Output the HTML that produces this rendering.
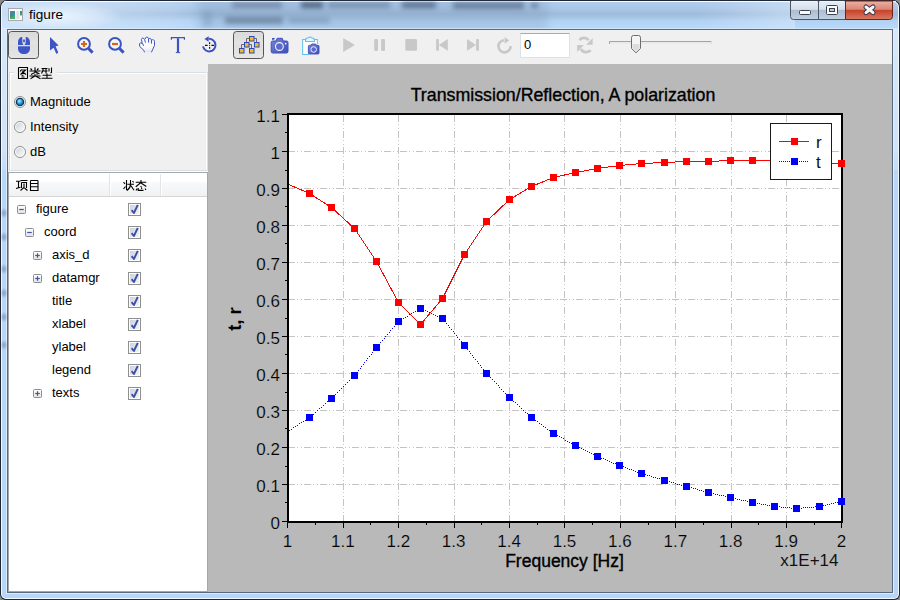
<!DOCTYPE html>
<html><head><meta charset="utf-8">
<style>
*{box-sizing:border-box}
html,body{margin:0;padding:0;width:900px;height:600px;overflow:hidden;background:#8a8a8a;font-family:"Liberation Sans",sans-serif}
.abs{position:absolute}
#outer{position:absolute;left:0;top:0;width:900px;height:600px;background:#1f2633;border-radius:7px 7px 6px 6px}
#hl{position:absolute;left:1px;top:1px;width:898px;height:598px;background:#f4f9ff;border-radius:6px 6px 5px 5px}
#frame{position:absolute;left:2px;top:2px;width:896px;height:596px;border-radius:5px 5px 4px 4px;background:linear-gradient(#b0cdec 0px,#a9c6e6 7px,#9fbcdc 12px,#a6c4e4 15px,#b2d2f4 19px,#b7d8f9 25px,#b8d7f8 40px,#b7d6f8 100%)}
#tbglow{position:absolute;left:10px;top:3px;width:110px;height:24px;background:radial-gradient(ellipse at 45% 55%,rgba(235,245,255,0.95) 0%,rgba(225,238,252,0.6) 45%,rgba(220,235,250,0) 75%)}
#blur{position:absolute;left:195px;top:0px;width:380px;height:28px;filter:blur(3px);opacity:0.55}
#client-b{position:absolute;left:7px;top:29px;width:886px;height:564px;border:1px solid #5a6a7e;background:#f0f0f0}
#toolbar{position:absolute;left:8px;top:30px;width:884px;height:34px;background:#f0f0f0}
#left{position:absolute;left:8px;top:64px;width:200px;height:528px;background:#f0f0f0}
#chart{position:absolute;left:208px;top:64px;width:684px;height:528px;background:#b9b9b9}
.tl{position:absolute;font-size:17px;line-height:18px;color:#000;-webkit-text-stroke:0.2px #b9b9b9;text-align:right;width:60px}
.bl{position:absolute;font-size:17px;line-height:18px;color:#000;-webkit-text-stroke:0.2px #b9b9b9;text-align:center;width:80px}
.ui{font-size:13px;color:#000;position:absolute;white-space:nowrap}
</style></head><body>
<div id="outer"></div>
<div id="hl"></div>
<div id="frame"></div>
<div class="abs" style="left:2px;top:2px;width:200px;height:27px;border-radius:5px 0 0 0;background:linear-gradient(90deg,rgba(214,232,250,0.75) 0%,rgba(214,232,250,0.6) 40%,rgba(214,232,250,0.25) 85%,rgba(214,232,250,0) 100%)"></div>
<div class="abs" style="left:0;top:2px;width:900px;height:27px;overflow:hidden"><div class="abs" style="left:198px;top:-4px;width:350px;height:34px;background:#6f8cae;filter:blur(4px);opacity:0.22"></div></div>
<div id="tbglow"></div>
<div class="abs" style="left:4px;top:1px;width:892px;height:1px;background:rgba(250,252,255,0.85)"></div>
<div class="abs" style="left:2px;top:28px;width:896px;height:1px;background:rgba(225,240,255,0.6)"></div>
<div class="abs" style="left:700px;top:2px;width:95px;height:26px;background:linear-gradient(90deg,rgba(215,232,250,0),rgba(215,232,250,0.55))"></div>
<div class="abs" style="left:0;top:0;width:900px;height:29px;overflow:hidden">
<div class="abs" style="left:232px;top:2px;width:50px;height:6px;background:#50627a;filter:blur(2.8px);opacity:0.5"></div>
<div class="abs" style="left:301px;top:2px;width:22px;height:6px;background:#283850;filter:blur(2.8px);opacity:0.65"></div>
<div class="abs" style="left:328px;top:2px;width:62px;height:6px;background:#50627a;filter:blur(2.8px);opacity:0.45"></div>
<div class="abs" style="left:402px;top:2px;width:34px;height:6px;background:#283850;filter:blur(2.8px);opacity:0.55"></div>
<div class="abs" style="left:453px;top:2px;width:71px;height:7px;background:#3a4a62;filter:blur(2.8px);opacity:0.5"></div>
<div class="abs" style="left:531px;top:3px;width:7px;height:5px;background:#3a4a62;filter:blur(2px);opacity:0.45"></div>
<div class="abs" style="left:225px;top:17px;width:58px;height:7px;background:#3a4a62;filter:blur(2.8px);opacity:0.45"></div>
<div class="abs" style="left:288px;top:18px;width:42px;height:5px;background:#50627a;filter:blur(2.8px);opacity:0.35"></div>
<div class="abs" style="left:203px;top:12px;width:9px;height:14px;background:#7088a8;filter:blur(2.5px);opacity:0.3"></div>
</div>
<div class="abs" style="left:29px;top:7px;font-size:13.6px;line-height:16px;color:#000">figure</div>
<div class="abs" style="left:2px;top:29px;width:4px;height:141px;background:linear-gradient(#d6e8fa,#cfe3f9 85%,#c4dcf8)"></div>
<div class="abs" style="left:894px;top:29px;width:4px;height:141px;background:linear-gradient(#d6e8fa,#cfe3f9 85%,#c4dcf8)"></div>
<div class="abs" style="left:6px;top:29px;width:1px;height:565px;background:rgba(255,255,255,0.55)"></div>
<div class="abs" style="left:893px;top:29px;width:1px;height:565px;background:rgba(255,255,255,0.55)"></div>
<div class="abs" style="left:6px;top:593px;width:888px;height:1px;background:rgba(255,255,255,0.5)"></div>
<div class="abs" style="left:0;top:180px;width:8px;height:200px;overflow:hidden">
<div class="abs" style="left:2px;top:30px;width:4px;height:6px;background:#4a5a78;filter:blur(1.5px);opacity:0.45"></div>
<div class="abs" style="left:2px;top:54px;width:4px;height:6px;background:#4a5a78;filter:blur(1.5px);opacity:0.45"></div>
<div class="abs" style="left:2px;top:86px;width:4px;height:6px;background:#4a5a78;filter:blur(1.5px);opacity:0.45"></div>
<div class="abs" style="left:2px;top:110px;width:4px;height:6px;background:#4a5a78;filter:blur(1.5px);opacity:0.45"></div>
<div class="abs" style="left:2px;top:134px;width:4px;height:6px;background:#4a5a78;filter:blur(1.5px);opacity:0.45"></div>
<div class="abs" style="left:2px;top:162px;width:4px;height:6px;background:#4a5a78;filter:blur(1.5px);opacity:0.45"></div>
</div>
<div id="client-b"></div>
<div id="toolbar"></div>
<div id="left"></div>
<div id="chart"></div>
<svg width="900" height="64" style="position:absolute;left:0;top:0">
<defs>
<linearGradient id="btnp" x1="0" y1="0" x2="0" y2="1"><stop offset="0" stop-color="#d9d9d9"/><stop offset="0.45" stop-color="#e3e3e3"/><stop offset="0.5" stop-color="#dedede"/><stop offset="1" stop-color="#e6e6e6"/></linearGradient>
<linearGradient id="capg" x1="0" y1="0" x2="0" y2="1"><stop offset="0" stop-color="#e8eef6"/><stop offset="0.45" stop-color="#d5e0ec"/><stop offset="0.5" stop-color="#abbdd1"/><stop offset="1" stop-color="#c3d1e0"/></linearGradient>
<linearGradient id="closeg" x1="0" y1="0" x2="0" y2="1"><stop offset="0" stop-color="#eeb0a3"/><stop offset="0.45" stop-color="#d98775"/><stop offset="0.5" stop-color="#c7422a"/><stop offset="1" stop-color="#dc7a62"/></linearGradient>
<linearGradient id="camg" x1="0" y1="0" x2="1" y2="1"><stop offset="0" stop-color="#7a86d0"/><stop offset="1" stop-color="#3d4fb8"/></linearGradient>
</defs>
<!-- window icon -->
<rect x="8.5" y="8.5" width="14" height="12" fill="#fafafa" stroke="#a9aaab" stroke-width="1"/>
<linearGradient id="icg" x1="0" y1="0" x2="0.3" y2="1"><stop offset="0" stop-color="#5580c8"/><stop offset="0.5" stop-color="#3a8a9a"/><stop offset="1" stop-color="#4ab060"/></linearGradient>
<rect x="10" y="11" width="5" height="8" fill="url(#icg)"/>
<rect x="16.4" y="11" width="2.8" height="8" fill="#e2e2e2"/>
<rect x="20" y="11" width="2" height="4.5" fill="url(#icg)"/>
<!-- caption buttons -->
<path d="M790.5 1V16.5a3 3 0 0 0 3 3H818.5V1z" fill="url(#capg)" stroke="#4d5666" stroke-width="1"/>
<path d="M818.5 1V19.5H845.5V1z" fill="url(#capg)" stroke="#4d5666" stroke-width="1"/>
<path d="M791.5 1.5H817.5M819.5 1.5H844.5" stroke="#f2f6fb" stroke-width="1"/>
<path d="M845.5 1V19.5H889.5a3 3 0 0 0 3-3V1z" fill="url(#closeg)" stroke="#6b2219" stroke-width="1"/>
<rect x="799.5" y="10.5" width="11" height="4" rx="1" fill="#fbfbfb" stroke="#3c4350" stroke-width="1"/>
<rect x="826.5" y="5.5" width="11" height="9" rx="1" fill="#fbfbfb" stroke="#3c4350" stroke-width="1"/>
<rect x="829.5" y="8.5" width="5" height="3" fill="#b9cde0" stroke="#3c4350" stroke-width="1"/>
<path d="M866 7L873 12.6M873 7L866 12.6" stroke="#353a48" stroke-width="5" stroke-linecap="round"/>
<path d="M866 7L873 12.6M873 7L866 12.6" stroke="#f6f6f6" stroke-width="3" stroke-linecap="round"/>
<!-- pressed buttons -->
<rect x="8.5" y="31.5" width="30" height="27" rx="3" fill="url(#btnp)" stroke="#555" stroke-width="1"/>
<rect x="233.5" y="31.5" width="30" height="27" rx="3" fill="url(#btnp)" stroke="#555" stroke-width="1"/>
<!-- mouse -->
<g fill="#3d55c5">
<path d="M18 45V42.5C18 39 20 37 22.3 37V41.5C22.3 43 22.8 44 23.3 44.6V45z"/>
<path d="M30 45V42.5C30 39 28 37 25.7 37V41.5C25.7 43 25.2 44 24.7 44.6V45z"/>
<ellipse cx="24" cy="40.8" rx="1" ry="1.6"/>
<path d="M18 46.2H30V48.5C30 52 27.5 54 24 54S18 52 18 48.5z"/>
</g>
<!-- arrow -->
<path d="M50 37L58.6 45.6L55.6 46.2L58.3 52.6L56.4 54L53.6 47.8L50 50.6z" fill="#3d55c5"/>
<!-- zoom in -->
<circle cx="84" cy="43.9" r="5.9" fill="#fff" fill-opacity="0.35" stroke="#3a52c4" stroke-width="2"/>
<path d="M88.5 48.5L92.6 52.6" stroke="#3a52c4" stroke-width="3"/>
<path d="M81 44H87M84 41V47" stroke="#d2691a" stroke-width="2.2"/>
<!-- zoom out -->
<circle cx="115" cy="43.9" r="5.9" fill="#fff" fill-opacity="0.35" stroke="#3a52c4" stroke-width="2"/>
<path d="M119.5 48.5L123.6 52.6" stroke="#3a52c4" stroke-width="3"/>
<path d="M112 44H118" stroke="#d2691a" stroke-width="2.2"/>
<!-- hand -->
<path d="M144.4 52.3L144 50.5L139.8 46.5L139.5 44C139.6 43.2 140.3 42.8 141 43L142.2 43.5L141.5 39.4C141.5 38.5 142.2 38 142.8 38.1C143.8 38.2 144.2 38.8 144.5 39.6L145.2 39.2L145.5 37.8C145.8 37.2 146.3 37 146.9 37.1C147.8 37.2 148.3 37.7 148.5 38.6C148.8 38.3 149.4 38.3 150.1 38.5C151 38.8 151.3 39.3 151.5 40.2C152.2 39.6 153 39.6 153.7 39.9C154.3 40.2 154.5 40.8 154.5 41.5V45.4L151.4 52.3z" fill="#fbfbfd"/>
<linearGradient id="palm" x1="0" y1="0" x2="0" y2="1"><stop offset="0" stop-color="#f0f0f0" stop-opacity="0"/><stop offset="1" stop-color="#dfe2ee"/></linearGradient><path d="M144.2 46L152.5 46L151.4 52.3H144.4z" fill="url(#palm)"/>
<path d="M144.4 52.3L144 50.5L139.8 46.5L139.5 44C139.6 43.2 140.3 42.8 141 43L142.8 43.8L143.6 45.8M142.2 43.5L141.5 39.4C141.5 38.5 142.2 38 142.8 38.1C143.8 38.2 144.2 38.8 144.5 39.6L145.5 42.6M145.2 39.2L145.5 37.8C145.8 37.2 146.3 37 146.9 37.1C147.8 37.2 148.3 37.7 148.4 38.3L148.7 42.6M148.5 38.6C148.8 38.3 149.4 38.3 150.1 38.5C151 38.8 151.3 39.3 151.4 40L151.6 43.7M151.5 40.2C152.2 39.6 153 39.6 153.7 39.9C154.3 40.2 154.5 40.8 154.5 41.5V45.4L151.4 52.3" fill="none" stroke="#3d55c5" stroke-width="1"/>
<!-- T -->
<path d="M171.4 39.8V37.6H184.4V39.8" fill="none" stroke="#3a52c4" stroke-width="1.2"/>
<path d="M176.9 38.2H179.1V52.2H176.9z" fill="#3a52c4"/>
<path d="M175.8 52.6H180.2" stroke="#3a52c4" stroke-width="1"/>
<!-- rotate -->
<path d="M208.6 38.8A6.3 6.3 0 1 1 203 46.4" fill="none" stroke="#3a52c4" stroke-width="2"/>
<path d="M204.4 39L208.6 36.2V41.8z" fill="#3a52c4"/>
<path d="M205 45.4H207.6M211.4 45.4H214M209.6 42.2V43.9M209.6 47V48.8" stroke="#111" stroke-width="1.2"/>
<rect x="209.1" y="44.9" width="1" height="1" fill="#111"/>
<!-- tree -->
<path d="M246.5 38.5V42M246.5 38.5H249M256.5 38.5V42M254 38.5H256.5M241.5 44.5V48M241.5 44.5H244M251.5 44.5V48M249 44.5H251.5" stroke="#6a6a6a" stroke-width="1" fill="none"/>
<g fill="#f2bb14" stroke="#2f48c4" stroke-width="1">
<rect x="249.5" y="36.5" width="4.5" height="4.5"/>
<rect x="244.5" y="42.5" width="4.5" height="4.5"/>
<rect x="254.5" y="42.5" width="4.5" height="4.5"/>
<rect x="239.5" y="48.5" width="4.5" height="4.5"/>
<rect x="249.5" y="48.5" width="4.5" height="4.5"/>
</g>
<!-- camera -->
<path d="M272 38H275L274 39.8H272z" fill="#3d55c5"/>
<path d="M271.2 42.5Q271.2 41 272.7 41H276L277.2 38.3H282.2L283.4 41H286.5Q288 41 288 42.5V51.5Q288 53 286.5 53H272.7Q271.2 53 271.2 51.5z" fill="url(#camg)" stroke="#3a4fc2" stroke-width="1"/>
<circle cx="279.4" cy="46.5" r="3.9" fill="#5a6ad0" stroke="#f2f2f8" stroke-width="1.1"/>
<rect x="285" y="43" width="1.4" height="1.4" fill="#fff"/>
<!-- clipboard camera -->
<path d="M305.5 39.5H302.7V54.5H309M314.5 39.5H317.3V44" fill="none" stroke="#5cc0f0" stroke-width="1.1"/>
<rect x="303.3" y="40" width="13.5" height="14" fill="#fff" fill-opacity="0.85"/>
<path d="M305.5 41.5H314.5V40C314.5 38.5 313 37.8 311.5 37.8C311 36.8 309 36.8 308.5 37.8C307 37.8 305.5 38.5 305.5 40z" fill="#e6f6fe" stroke="#5cc0f0" stroke-width="1.1"/>
<path d="M308.4 46.3Q308.4 45.3 309.4 45.3H311L311.8 44H315.6L316.4 45.3H318Q319 45.3 319 46.3V53Q319 54 318 54H309.4Q308.4 54 308.4 53z" fill="url(#camg)" stroke="#3a4fc2" stroke-width="0.9"/>
<circle cx="313.7" cy="49.5" r="2.8" fill="#5a6ad0" stroke="#eef" stroke-width="1"/>
<!-- media, disabled -->
<path d="M343.2 38L355 45L343.2 52z" fill="#c8c8c8"/>
<rect x="374.2" y="39" width="3.8" height="12" rx="1.2" fill="#c8c8c8"/>
<rect x="381.1" y="39" width="3.9" height="12" rx="1.2" fill="#c8c8c8"/>
<rect x="405.3" y="39" width="11.7" height="11.8" rx="1.4" fill="#c8c8c8"/>
<rect x="436.1" y="39" width="2.8" height="11.8" rx="0.8" fill="#c8c8c8"/>
<path d="M447.8 39V50.8L438.9 45z" fill="#c8c8c8"/>
<rect x="476.1" y="39" width="2.8" height="11.8" rx="0.8" fill="#c8c8c8"/>
<path d="M467 39V50.8L476.1 45z" fill="#c8c8c8"/>
<path d="M510.6 46.1A6.1 6.1 0 1 1 504.2 40.2" fill="none" stroke="#c8c8c8" stroke-width="2.6"/>
<path d="M509.2 40.4L504.6 37.1V43.8z" fill="#c8c8c8"/>
<!-- input -->
<rect x="520.5" y="33.5" width="49" height="24" fill="#fff" stroke="#dde2e9" stroke-width="1"/>
<path d="M520.5 33.5H569.5" stroke="#a9a9a9" stroke-width="1"/>
<!-- sync -->
<path d="M579.5 40.2C581.5 37.5 586 36.6 588.6 40.2" fill="none" stroke="#c8c8c8" stroke-width="2.8"/>
<path d="M592.7 38V44.8H586.1z" fill="#c8c8c8"/>
<path d="M580.8 49C583 52.8 588.3 53 590.6 50.2" fill="none" stroke="#c8c8c8" stroke-width="2.8"/>
<path d="M577.1 45V52L583.9 45z" fill="#c8c8c8"/>
<!-- slider -->
<rect x="609" y="41" width="103" height="3" fill="#e8ebeb"/>
<path d="M609.5 44V41.5H711.5" stroke="#a4a4a4" stroke-width="1" fill="none"/>
<path d="M711.5 41.5V44" stroke="#e0e0e0" stroke-width="1" fill="none"/>
<path d="M631.5 37.5Q631.5 35.5 633.5 35.5H638.5Q640.5 35.5 640.5 37.5V48.5L636 52.8L631.5 48.5z" fill="#f4f4f4" stroke="#6d6d6d" stroke-width="1"/>
<path d="M632.5 44H639.5V48.2L636 51.5L632.5 48.2z" fill="#dcdcdc"/>
</svg>
<div class="ui" style="left:524px;top:37px;font-size:13px">0</div>

<svg width="210" height="600" style="position:absolute;left:0;top:0">
<defs>
<radialGradient id="rsel" cx="0.4" cy="0.35" r="0.7"><stop offset="0" stop-color="#b8ecff"/><stop offset="0.5" stop-color="#25a6ea"/><stop offset="1" stop-color="#0a5fa8"/></radialGradient>
<linearGradient id="runsel" x1="0" y1="0" x2="1" y2="1"><stop offset="0" stop-color="#cfd3da"/><stop offset="1" stop-color="#fafafa"/></linearGradient>
<linearGradient id="cbg" x1="0" y1="0" x2="1" y2="1"><stop offset="0" stop-color="#cdd2dc"/><stop offset="1" stop-color="#f4f4f4"/></linearGradient>
<linearGradient id="hdr" x1="0" y1="0" x2="0" y2="1"><stop offset="0" stop-color="#ffffff"/><stop offset="0.4" stop-color="#ffffff"/><stop offset="0.42" stop-color="#f7f8fa"/><stop offset="1" stop-color="#f1f2f4"/></linearGradient>
<linearGradient id="exg" x1="0" y1="0" x2="0" y2="1"><stop offset="0" stop-color="#ffffff"/><stop offset="1" stop-color="#e2e2e2"/></linearGradient>
</defs>
<!-- group box -->
<path d="M9.5 170.5V72.5H206.5" fill="none" stroke="#d5dfe5" stroke-width="1"/>
<path d="M10.5 170V73.5H206" fill="none" stroke="#ffffff" stroke-width="1"/>
<path d="M206.5 73V170.5H9" fill="none" stroke="#ffffff" stroke-width="1"/>
<path d="M207.5 72V170.5M9 170.5H207" fill="none" stroke="#d5dfe5" stroke-width="1"/>
<path d="M9 171.5H208" stroke="#fff" stroke-width="1"/>
<rect x="14" y="64" width="43" height="14" fill="#f0f0f0"/>
<!-- title chars 图类型 -->
<g stroke="#000" stroke-width="1.1" fill="none">
<path d="M18.5 67.5H27.5V78.5M18.5 67.5V78.5H27.5"/>
<path d="M21.5 69.5L20 71.5M21 70H25.5L20.5 74.5M22 71.5L26 74.5M21.5 75.3H23.5M21.5 77H24.5"/>
<path d="M30.5 68.5L32 70M38.5 68.5L37 70M29.5 71H40.5M35 67.3V72.5L31 74.5M35 71.5L39.5 74M29.5 76H40.5M35 74V76L30.5 78.7M35.5 76L40.5 78.7M36.5 73.7L37.5 74.5"/>
<path d="M41.5 68.5H47.5M41.5 71H47.5M43 68.5V70.5L41.5 73.5M46 68.5V73.5M49 68.3V71.5M51.5 67.5V72.5L50.5 73M42.5 75.3H51.5M47 73.5V78M41.5 78.3H52.5"/>
</g>
<!-- radios -->
<circle cx="20" cy="102" r="5.5" fill="#fff" stroke="#8e8f8f" stroke-width="1"/>
<circle cx="20" cy="102" r="3.6" fill="url(#rsel)" stroke="#103a60" stroke-width="1.4"/>
<circle cx="20" cy="127" r="5.5" fill="#fff" stroke="#8e8f8f" stroke-width="1"/>
<circle cx="20" cy="127" r="4" fill="url(#runsel)"/>
<circle cx="20" cy="152" r="5.5" fill="#fff" stroke="#8e8f8f" stroke-width="1"/>
<circle cx="20" cy="152" r="4" fill="url(#runsel)"/>
<!-- tree widget -->
<rect x="8.5" y="172.5" width="199" height="419" fill="#fff" stroke="#a4a7ab" stroke-width="1"/>
<rect x="9" y="173" width="198" height="23" fill="url(#hdr)"/>
<path d="M9 196.5H207" stroke="#d5d5d5" stroke-width="1"/>
<path d="M109.5 174V196M160.5 174V196" stroke="#e3e4e6" stroke-width="1"/>
<path d="M110.5 174V196M161.5 174V196" stroke="#ffffff" stroke-width="1"/>
<g stroke="#000" stroke-width="1.1" fill="none">
<path d="M16 181.3H20.5M18.5 181.3V188M16 188.5L20.5 187.3M20.5 180.5H27.5M21.5 182.5H26.5V188M21.5 182.5V188M24 183.5V187.5L20.5 190.5M24.5 188L27.5 190.5"/>
<path d="M30.5 180.5H38M30.5 180.5V190.5H38V180.5M30.5 183.5H38M30.5 186.7H38"/>
<path d="M126.5 180V190.3M123.5 182L125 184M123.5 189L125.5 186.5M127.3 184.3H134M130.5 180V184.5C130.5 186.5 129 189 127 190.5M130.8 185.5L134 190.3M132.5 181L133.6 182.3"/>
<path d="M135.7 182.3H146.3M141 180V182.5L135.8 186.7M141 183L146.3 186.5M140.6 186L141.8 187.5M136 190.5L137.2 188.6M138.2 188V190.4H143.5M141.3 188L142 189M145 188.5L146 190"/>
</g>
<!-- checkboxes -->
<rect x="17.5" y="205.5" width="8" height="8" rx="1" fill="url(#exg)" stroke="#8d8d8d" stroke-width="1"/>
<path d="M19.2 209.5H23.8" stroke="#3e55b0" stroke-width="1.2"/>
<rect x="128.5" y="203.5" width="12" height="12" fill="#fff" stroke="#8f8f8f" stroke-width="1"/>
<rect x="130" y="205.0" width="9" height="9" fill="url(#cbg)"/>
<path d="M131.6 210.2L133.9 213.0L137.8 204.8" fill="none" stroke="#3a4fa6" stroke-width="1.9" stroke-linejoin="round"/>
<rect x="25.5" y="228.5" width="8" height="8" rx="1" fill="url(#exg)" stroke="#8d8d8d" stroke-width="1"/>
<path d="M27.2 232.5H31.8" stroke="#3e55b0" stroke-width="1.2"/>
<rect x="128.5" y="226.5" width="12" height="12" fill="#fff" stroke="#8f8f8f" stroke-width="1"/>
<rect x="130" y="228.0" width="9" height="9" fill="url(#cbg)"/>
<path d="M131.6 233.2L133.9 236.0L137.8 227.8" fill="none" stroke="#3a4fa6" stroke-width="1.9" stroke-linejoin="round"/>
<rect x="33.5" y="251.5" width="8" height="8" rx="1" fill="url(#exg)" stroke="#8d8d8d" stroke-width="1"/>
<path d="M35.2 255.5H39.8" stroke="#3e55b0" stroke-width="1.2"/>
<path d="M37.5 253.2V257.8" stroke="#3e55b0" stroke-width="1.2"/>
<rect x="128.5" y="249.5" width="12" height="12" fill="#fff" stroke="#8f8f8f" stroke-width="1"/>
<rect x="130" y="251.0" width="9" height="9" fill="url(#cbg)"/>
<path d="M131.6 256.2L133.9 259.0L137.8 250.8" fill="none" stroke="#3a4fa6" stroke-width="1.9" stroke-linejoin="round"/>
<rect x="33.5" y="274.5" width="8" height="8" rx="1" fill="url(#exg)" stroke="#8d8d8d" stroke-width="1"/>
<path d="M35.2 278.5H39.8" stroke="#3e55b0" stroke-width="1.2"/>
<path d="M37.5 276.2V280.8" stroke="#3e55b0" stroke-width="1.2"/>
<rect x="128.5" y="272.5" width="12" height="12" fill="#fff" stroke="#8f8f8f" stroke-width="1"/>
<rect x="130" y="274.0" width="9" height="9" fill="url(#cbg)"/>
<path d="M131.6 279.2L133.9 282.0L137.8 273.8" fill="none" stroke="#3a4fa6" stroke-width="1.9" stroke-linejoin="round"/>
<rect x="128.5" y="295.5" width="12" height="12" fill="#fff" stroke="#8f8f8f" stroke-width="1"/>
<rect x="130" y="297.0" width="9" height="9" fill="url(#cbg)"/>
<path d="M131.6 302.2L133.9 305.0L137.8 296.8" fill="none" stroke="#3a4fa6" stroke-width="1.9" stroke-linejoin="round"/>
<rect x="128.5" y="318.5" width="12" height="12" fill="#fff" stroke="#8f8f8f" stroke-width="1"/>
<rect x="130" y="320.0" width="9" height="9" fill="url(#cbg)"/>
<path d="M131.6 325.2L133.9 328.0L137.8 319.8" fill="none" stroke="#3a4fa6" stroke-width="1.9" stroke-linejoin="round"/>
<rect x="128.5" y="341.5" width="12" height="12" fill="#fff" stroke="#8f8f8f" stroke-width="1"/>
<rect x="130" y="343.0" width="9" height="9" fill="url(#cbg)"/>
<path d="M131.6 348.2L133.9 351.0L137.8 342.8" fill="none" stroke="#3a4fa6" stroke-width="1.9" stroke-linejoin="round"/>
<rect x="128.5" y="364.5" width="12" height="12" fill="#fff" stroke="#8f8f8f" stroke-width="1"/>
<rect x="130" y="366.0" width="9" height="9" fill="url(#cbg)"/>
<path d="M131.6 371.2L133.9 374.0L137.8 365.8" fill="none" stroke="#3a4fa6" stroke-width="1.9" stroke-linejoin="round"/>
<rect x="33.5" y="389.5" width="8" height="8" rx="1" fill="url(#exg)" stroke="#8d8d8d" stroke-width="1"/>
<path d="M35.2 393.5H39.8" stroke="#3e55b0" stroke-width="1.2"/>
<path d="M37.5 391.2V395.8" stroke="#3e55b0" stroke-width="1.2"/>
<rect x="128.5" y="387.5" width="12" height="12" fill="#fff" stroke="#8f8f8f" stroke-width="1"/>
<rect x="130" y="389.0" width="9" height="9" fill="url(#cbg)"/>
<path d="M131.6 394.2L133.9 397.0L137.8 388.8" fill="none" stroke="#3a4fa6" stroke-width="1.9" stroke-linejoin="round"/>
</svg>
<div class="ui" style="left:36px;top:201px">figure</div>
<div class="ui" style="left:44px;top:224px">coord</div>
<div class="ui" style="left:52px;top:247px">axis_d</div>
<div class="ui" style="left:52px;top:270px">datamgr</div>
<div class="ui" style="left:52px;top:293px">title</div>
<div class="ui" style="left:52px;top:316px">xlabel</div>
<div class="ui" style="left:52px;top:339px">ylabel</div>
<div class="ui" style="left:52px;top:362px">legend</div>
<div class="ui" style="left:52px;top:385px">texts</div>
<div class="ui" style="left:30px;top:94px">Magnitude</div><div class="ui" style="left:30px;top:119px">Intensity</div><div class="ui" style="left:30px;top:144px">dB</div>
<svg width="900" height="600" style="position:absolute;left:0;top:0" shape-rendering="crispEdges">
<rect x="289" y="115" width="552" height="406" fill="#ffffff"/>
<path d="M343.5 115V521M398.5 115V521M454.5 115V521M509.5 115V521M564.5 115V521M620.5 115V521M675.5 115V521M731.5 115V521M786.5 115V521M288 484.5H841M288 447.5H841M288 410.5H841M288 373.5H841M288 336.5H841M288 299.5H841M288 262.5H841M288 225.5H841M288 188.5H841M288 151.5H841" stroke="#c4c4c4" stroke-width="1" fill="none" stroke-dasharray="7 2 1 3 1 2"/>
<path d="M288 113V523M287 114H843M842 113V523M287 522H843" stroke="#000" stroke-width="2" fill="none"/>
<path d="M282 521.5H287M282 484.5H287M282 447.5H287M282 410.5H287M282 373.5H287M282 336.5H287M282 299.5H287M282 262.5H287M282 225.5H287M282 188.5H287M282 151.5H287M282 114.5H287M285 502.5H287M285 466.5H287M285 428.5H287M285 392.5H287M285 354.5H287M285 318.5H287M285 280.5H287M285 243.5H287M285 206.5H287M285 170.5H287M285 132.5H287M287.5 523V528M343.5 523V528M398.5 523V528M454.5 523V528M509.5 523V528M564.5 523V528M620.5 523V528M675.5 523V528M731.5 523V528M786.5 523V528M841.5 523V528M315.5 523V525M370.5 523V525M426.5 523V525M481.5 523V525M537.5 523V525M592.5 523V525M648.5 523V525M703.5 523V525M758.5 523V525M814.5 523V525" stroke="#000" stroke-width="1" fill="none"/>
<g shape-rendering="crispEdges">
<clipPath id="pc"><rect x="289" y="115" width="552" height="406"/></clipPath>
<polyline clip-path="url(#pc)" points="287.5,184.0 309.5,193.5 331.5,207.5 354.5,228.5 376.5,261.5 398.5,302.5 420.5,324.5 442.5,298.5 464.5,254.5 486.5,221.5 509.5,199.5 531.5,186.5 553.5,177.5 575.5,172.5 597.5,168.5 619.5,165.5 641.5,163.5 664.5,162.5 686.5,161.5 708.5,161.5 730.5,160.5 752.5,160.5 774.5,160.5 796.5,161.5 819.5,162.5 841.5,163.5" fill="none" stroke="#ff0000" stroke-width="1"/>
<path d="M289 430h1v1h-1zM291 429h1v1h-1zM293 427h1v1h-1zM295 426h1v1h-1zM297 425h1v1h-1zM299 423h1v1h-1zM301 422h1v1h-1zM303 421h1v1h-1zM305 420h1v1h-1zM307 418h1v1h-1zM309 417h1v1h-1zM311 415h1v1h-1zM313 414h1v1h-1zM315 412h1v1h-1zM317 410h1v1h-1zM319 408h1v1h-1zM321 407h1v1h-1zM323 405h1v1h-1zM325 403h1v1h-1zM327 401h1v1h-1zM329 400h1v1h-1zM331 398h1v1h-1zM333 396h1v1h-1zM335 394h1v1h-1zM337 392h1v1h-1zM339 390h1v1h-1zM341 388h1v1h-1zM343 386h1v1h-1zM345 384h1v1h-1zM347 382h1v1h-1zM349 380h1v1h-1zM351 378h1v1h-1zM353 376h1v1h-1zM355 374h1v1h-1zM356 372h1v1h-1zM358 370h1v1h-1zM360 368h1v1h-1zM361 366h1v1h-1zM363 364h1v1h-1zM364 362h1v1h-1zM366 360h1v1h-1zM367 358h1v1h-1zM369 356h1v1h-1zM371 354h1v1h-1zM372 352h1v1h-1zM374 350h1v1h-1zM375 348h1v1h-1zM377 346h1v1h-1zM379 344h1v1h-1zM380 342h1v1h-1zM382 340h1v1h-1zM384 338h1v1h-1zM385 336h1v1h-1zM387 334h1v1h-1zM389 332h1v1h-1zM390 330h1v1h-1zM392 328h1v1h-1zM394 326h1v1h-1zM395 324h1v1h-1zM397 322h1v1h-1zM399 320h1v1h-1zM401 319h1v1h-1zM403 318h1v1h-1zM405 317h1v1h-1zM407 316h1v1h-1zM409 314h1v1h-1zM411 313h1v1h-1zM413 312h1v1h-1zM415 311h1v1h-1zM417 310h1v1h-1zM419 309h1v1h-1zM421 308h1v1h-1zM423 309h1v1h-1zM425 310h1v1h-1zM427 311h1v1h-1zM429 312h1v1h-1zM431 313h1v1h-1zM433 314h1v1h-1zM435 315h1v1h-1zM437 316h1v1h-1zM439 317h1v1h-1zM441 318h1v1h-1zM443 319h1v1h-1zM444 321h1v1h-1zM446 323h1v1h-1zM448 325h1v1h-1zM449 327h1v1h-1zM451 329h1v1h-1zM453 331h1v1h-1zM454 333h1v1h-1zM456 335h1v1h-1zM457 337h1v1h-1zM459 339h1v1h-1zM461 341h1v1h-1zM462 343h1v1h-1zM464 345h1v1h-1zM466 347h1v1h-1zM467 349h1v1h-1zM469 351h1v1h-1zM470 353h1v1h-1zM472 355h1v1h-1zM473 357h1v1h-1zM475 359h1v1h-1zM477 361h1v1h-1zM478 363h1v1h-1zM480 365h1v1h-1zM481 367h1v1h-1zM483 369h1v1h-1zM484 371h1v1h-1zM486 373h1v1h-1zM488 375h1v1h-1zM490 377h1v1h-1zM492 379h1v1h-1zM494 381h1v1h-1zM496 383h1v1h-1zM498 385h1v1h-1zM499 387h1v1h-1zM501 389h1v1h-1zM503 391h1v1h-1zM505 393h1v1h-1zM507 395h1v1h-1zM509 397h1v1h-1zM511 399h1v1h-1zM513 401h1v1h-1zM515 402h1v1h-1zM517 404h1v1h-1zM519 406h1v1h-1zM521 408h1v1h-1zM523 410h1v1h-1zM525 412h1v1h-1zM527 413h1v1h-1zM529 415h1v1h-1zM531 417h1v1h-1zM533 418h1v1h-1zM535 420h1v1h-1zM537 421h1v1h-1zM539 423h1v1h-1zM541 424h1v1h-1zM543 426h1v1h-1zM545 427h1v1h-1zM547 429h1v1h-1zM549 430h1v1h-1zM551 432h1v1h-1zM553 433h1v1h-1zM555 434h1v1h-1zM557 435h1v1h-1zM559 436h1v1h-1zM561 437h1v1h-1zM563 438h1v1h-1zM565 440h1v1h-1zM567 441h1v1h-1zM569 442h1v1h-1zM571 443h1v1h-1zM573 444h1v1h-1zM575 445h1v1h-1zM577 446h1v1h-1zM579 447h1v1h-1zM581 448h1v1h-1zM583 449h1v1h-1zM585 450h1v1h-1zM587 451h1v1h-1zM589 452h1v1h-1zM591 453h1v1h-1zM593 454h1v1h-1zM595 455h1v1h-1zM597 456h1v1h-1zM599 457h1v1h-1zM601 458h1v1h-1zM603 458h1v1h-1zM605 459h1v1h-1zM607 460h1v1h-1zM609 461h1v1h-1zM611 462h1v1h-1zM613 463h1v1h-1zM615 463h1v1h-1zM617 464h1v1h-1zM619 465h1v1h-1zM621 466h1v1h-1zM623 466h1v1h-1zM625 467h1v1h-1zM627 468h1v1h-1zM629 469h1v1h-1zM631 469h1v1h-1zM633 470h1v1h-1zM635 471h1v1h-1zM637 472h1v1h-1zM639 472h1v1h-1zM641 473h1v1h-1zM643 474h1v1h-1zM645 474h1v1h-1zM647 475h1v1h-1zM649 475h1v1h-1zM651 476h1v1h-1zM653 477h1v1h-1zM655 477h1v1h-1zM657 478h1v1h-1zM659 478h1v1h-1zM661 479h1v1h-1zM663 480h1v1h-1zM665 480h1v1h-1zM667 481h1v1h-1zM669 481h1v1h-1zM671 482h1v1h-1zM673 482h1v1h-1zM675 483h1v1h-1zM677 484h1v1h-1zM679 484h1v1h-1zM681 485h1v1h-1zM683 485h1v1h-1zM685 486h1v1h-1zM687 486h1v1h-1zM689 487h1v1h-1zM691 487h1v1h-1zM693 488h1v1h-1zM695 488h1v1h-1zM697 489h1v1h-1zM699 490h1v1h-1zM701 490h1v1h-1zM703 491h1v1h-1zM705 491h1v1h-1zM707 492h1v1h-1zM709 492h1v1h-1zM711 493h1v1h-1zM713 493h1v1h-1zM715 494h1v1h-1zM717 494h1v1h-1zM719 495h1v1h-1zM721 495h1v1h-1zM723 495h1v1h-1zM725 496h1v1h-1zM727 496h1v1h-1zM729 497h1v1h-1zM731 497h1v1h-1zM733 498h1v1h-1zM735 498h1v1h-1zM737 499h1v1h-1zM739 499h1v1h-1zM741 500h1v1h-1zM743 500h1v1h-1zM745 500h1v1h-1zM747 501h1v1h-1zM749 501h1v1h-1zM751 502h1v1h-1zM753 502h1v1h-1zM755 503h1v1h-1zM757 503h1v1h-1zM759 503h1v1h-1zM761 504h1v1h-1zM763 504h1v1h-1zM765 504h1v1h-1zM767 505h1v1h-1zM769 505h1v1h-1zM771 505h1v1h-1zM773 506h1v1h-1zM775 506h1v1h-1zM777 506h1v1h-1zM779 506h1v1h-1zM781 507h1v1h-1zM783 507h1v1h-1zM785 507h1v1h-1zM787 507h1v1h-1zM789 507h1v1h-1zM791 508h1v1h-1zM793 508h1v1h-1zM795 508h1v1h-1zM797 508h1v1h-1zM799 508h1v1h-1zM801 508h1v1h-1zM803 507h1v1h-1zM805 507h1v1h-1zM807 507h1v1h-1zM809 507h1v1h-1zM811 507h1v1h-1zM813 507h1v1h-1zM815 506h1v1h-1zM817 506h1v1h-1zM819 506h1v1h-1zM821 506h1v1h-1zM823 505h1v1h-1zM825 505h1v1h-1zM827 504h1v1h-1zM829 504h1v1h-1zM831 503h1v1h-1zM833 503h1v1h-1zM835 502h1v1h-1zM837 502h1v1h-1zM839 501h1v1h-1z" fill="#0000ff"/>
</g>
<path d="M306.0 190.0h7v7h-7zM328.0 204.0h7v7h-7zM351.0 225.0h7v7h-7zM373.0 258.0h7v7h-7zM395.0 299.0h7v7h-7zM417.0 321.0h7v7h-7zM439.0 295.0h7v7h-7zM461.0 251.0h7v7h-7zM483.0 218.0h7v7h-7zM506.0 196.0h7v7h-7zM528.0 183.0h7v7h-7zM550.0 174.0h7v7h-7zM572.0 169.0h7v7h-7zM594.0 165.0h7v7h-7zM616.0 162.0h7v7h-7zM638.0 160.0h7v7h-7zM661.0 159.0h7v7h-7zM683.0 158.0h7v7h-7zM705.0 158.0h7v7h-7zM727.0 157.0h7v7h-7zM749.0 157.0h7v7h-7zM771.0 157.0h7v7h-7zM793.0 158.0h7v7h-7zM816.0 159.0h7v7h-7zM838.0 160.0h7v7h-7z" fill="#ff0000"/>
<path d="M306.0 414.0h7v7h-7zM328.0 395.0h7v7h-7zM351.0 372.0h7v7h-7zM373.0 344.0h7v7h-7zM395.0 318.0h7v7h-7zM417.0 305.0h7v7h-7zM439.0 315.0h7v7h-7zM461.0 342.0h7v7h-7zM483.0 370.0h7v7h-7zM506.0 394.0h7v7h-7zM528.0 414.0h7v7h-7zM550.0 430.0h7v7h-7zM572.0 442.0h7v7h-7zM594.0 453.0h7v7h-7zM616.0 462.0h7v7h-7zM638.0 470.0h7v7h-7zM661.0 477.0h7v7h-7zM683.0 483.0h7v7h-7zM705.0 489.0h7v7h-7zM727.0 494.0h7v7h-7zM749.0 499.0h7v7h-7zM771.0 503.0h7v7h-7zM793.0 505.0h7v7h-7zM816.0 503.0h7v7h-7zM838.0 498.0h7v7h-7z" fill="#0000ff"/>
<rect x="770.5" y="123.5" width="61" height="56" fill="#fff" stroke="#1a1a1a" stroke-width="1"/>
<path d="M779 141.5H809" stroke="#ff0000" stroke-width="1"/>
<rect x="791" y="138" width="7" height="7" fill="#ff0000"/>
<path d="M779 161.5H809" stroke="#0000ff" stroke-width="1" stroke-dasharray="1 1"/>
<rect x="791" y="158" width="7" height="7" fill="#0000ff"/>
</svg>
<div class="tl" style="right:620px;top:514.8px">0</div>
<div class="tl" style="right:620px;top:477.8px">0.1</div>
<div class="tl" style="right:620px;top:440.8px">0.2</div>
<div class="tl" style="right:620px;top:403.8px">0.3</div>
<div class="tl" style="right:620px;top:366.8px">0.4</div>
<div class="tl" style="right:620px;top:329.8px">0.5</div>
<div class="tl" style="right:620px;top:292.8px">0.6</div>
<div class="tl" style="right:620px;top:255.8px">0.7</div>
<div class="tl" style="right:620px;top:218.8px">0.8</div>
<div class="tl" style="right:620px;top:181.8px">0.9</div>
<div class="tl" style="right:620px;top:144.8px">1</div>
<div class="tl" style="right:620px;top:107.8px">1.1</div>
<div class="bl" style="left:247.5px;top:533px">1</div>
<div class="bl" style="left:302.9px;top:533px">1.1</div>
<div class="bl" style="left:358.3px;top:533px">1.2</div>
<div class="bl" style="left:413.7px;top:533px">1.3</div>
<div class="bl" style="left:469.1px;top:533px">1.4</div>
<div class="bl" style="left:524.5px;top:533px">1.5</div>
<div class="bl" style="left:579.9px;top:533px">1.6</div>
<div class="bl" style="left:635.3px;top:533px">1.7</div>
<div class="bl" style="left:690.7px;top:533px">1.8</div>
<div class="bl" style="left:746.1px;top:533px">1.9</div>
<div class="bl" style="left:801.5px;top:533px">2</div>
<div class="abs" style="left:363px;width:400px;text-align:center;top:85px;font-size:17.8px;line-height:20px;color:#000;white-space:nowrap;-webkit-text-stroke:0.35px #000">Transmission/Reflection, A polarization</div>
<div class="abs" style="left:414.5px;width:300px;text-align:center;top:551px;font-size:17.5px;line-height:20px;color:#000;white-space:nowrap;-webkit-text-stroke:0.35px #000">Frequency [Hz]</div>
<div class="abs" style="left:738.5px;width:100px;text-align:right;top:552px;font-size:17px;line-height:18px;color:#111;white-space:nowrap">x1E+14</div>
<div class="abs" style="left:219.5px;top:309px;width:30px;height:20px;font-size:18.5px;font-weight:bold;line-height:20px;color:#000;white-space:nowrap;transform:rotate(-90deg);transform-origin:15px 10px;text-align:center">t, r</div>
<div class="abs" style="left:816px;top:134px;font-size:17px;line-height:18px;color:#111">r</div>
<div class="abs" style="left:816px;top:154px;font-size:17px;line-height:18px;color:#111">t</div>
</body></html>
